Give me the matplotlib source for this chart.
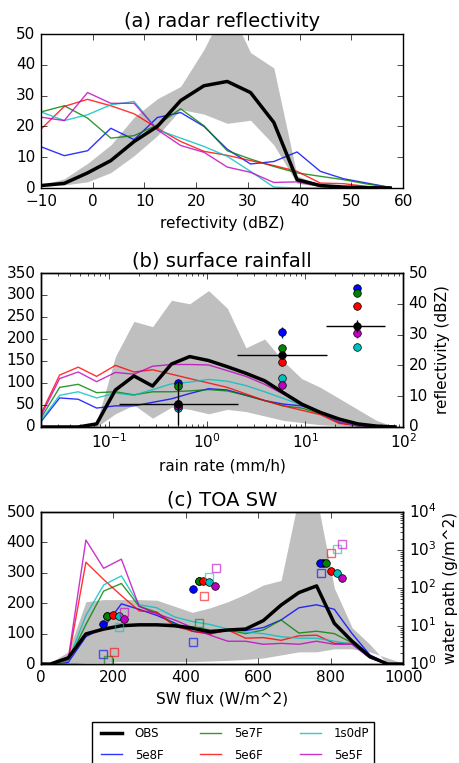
import numpy as np
import matplotlib
matplotlib.use('Agg')
import matplotlib.pyplot as plt
plt.style.use('classic')
plt.rcParams['font.family'] = ['DejaVu Sans']
plt.rcParams['mathtext.fontset'] = 'dejavusans'
plt.rcParams['font.size'] = 11

runs = ['OBS', '5e8F', '5e7F', '5e6F', '1s0dP', '5e5F']
colors = ['k', 'b', 'g', 'r', 'c', 'm']

# (a) radar reflectivity
dbz = [-10, -5.5, -1, 3.5, 8, 12.5, 17, 21.5, 26, 30.5, 35, 39.5, 44, 48.5, 53, 57.5]
a_lo = [0.5, 1, 2, 5, 10.5, 17, 25.5, 24, 21, 22, 14, 1.5, 0.5, 0, 0, 0]
a_hi = [1, 3, 8, 14, 23, 29, 33, 45, 60, 44, 39, 4, 1, 0.3, 0.1, 0]
a_vals = {
    'OBS':   [0.8, 1.5, 4.9, 8.9, 15.1, 20, 28.4, 33.2, 34.6, 31, 21.3, 2.7, 0.8, 0.3, 0.1, 0],
    '5e8F':  [13.4, 10.5, 12.1, 19.4, 15.7, 22.9, 24.5, 20, 12.6, 7.8, 8.6, 11.7, 5.4, 3, 1.6, 0.2],
    '5e7F':  [24.7, 26.7, 22.7, 16.2, 17, 20.5, 25.7, 20.2, 12.1, 9.4, 7, 4.9, 3.8, 2.7, 1.3, 0.2],
    '5e6F':  [19.1, 26.5, 28.8, 26.7, 24.1, 19.4, 15.1, 11.9, 10.6, 8.9, 7.3, 5.4, 1.6, 1.4, 0.5, 0.2],
    '1s0dP': [24.7, 21.9, 23.8, 27, 28.1, 18.9, 16.2, 13.5, 10.3, 5.4, 0.3, 0, 0, 0, 0, 0],
    '5e5F':  [23, 21.9, 31, 27.5, 27.5, 18.9, 13.8, 11.6, 6.8, 5.1, 1.8, 2, 0.5, 0.2, 0, 0],
}

# (b) surface rainfall
rain = [0.02, 0.031, 0.048, 0.074, 0.115, 0.178, 0.276, 0.43, 0.66, 1.03,
        1.6, 2.48, 3.85, 5.96, 9.2, 14.3, 22.2, 34.4, 53.3, 82.6]
b_lo = [0, 0, 0, 0, 30, 50, 20, 45, 40, 30, 40, 35, 25, 15, 10, 5, 3, 1, 0, 0]
b_hi = [0, 0, 0, 10, 160, 240, 228, 288, 280, 310, 270, 180, 200, 150, 110, 90, 65, 40, 15, 0]
b_vals = {
    'OBS':   [0, 0, 0, 7, 84, 116, 93, 143, 160, 151, 137, 122, 105, 78, 52, 33, 18, 7, 2, 0],
    '5e8F':  [12, 66, 63, 43, 48, 48, 56, 64, 76, 87, 84, 72, 60, 52, 48, 33, 10, 3, 2, 1],
    '5e7F':  [20, 90, 97, 78, 80, 73, 80, 80, 82, 85, 82, 72, 60, 48, 43, 30, 10, 3, 2, 1],
    '5e6F':  [30, 118, 136, 115, 140, 125, 130, 120, 110, 100, 90, 75, 60, 48, 38, 28, 8, 3, 2, 1],
    '1s0dP': [15, 72, 80, 66, 77, 72, 85, 98, 102, 108, 104, 94, 80, 65, 50, 32, 12, 3, 2, 1],
    '5e5F':  [25, 110, 125, 103, 124, 120, 138, 142, 142, 141, 128, 115, 97, 75, 50, 32, 12, 3, 2, 1],
}
# reflectivity composites per rain-rate class
zr_x = [0.5, 5.75, 33.4]
zr_xlo = [0.375, 3.75, 17.0]
zr_xhi = [1.57, 10.95, 32.6]
zr_vals = {
    'OBS':   [7.6, 23.4, 32.8],
    '5e8F':  [14.3, 30.8, 45.1],
    '5e7F':  [13.4, 25.5, 43.5],
    '5e6F':  [7.3, 21.0, 39.3],
    '1s0dP': [6.0, 15.8, 26.1],
    '5e5F':  [6.8, 13.6, 30.4],
}
zr_err = {
    'OBS':   [7.0, 1.0, 2.0],
    '5e8F':  [0.5, 1.8, 1.0],
    '5e7F':  [0.5, 0.8, 0.6],
    '5e6F':  [0.5, 0.8, 0.6],
    '1s0dP': [0.5, 0.8, 0.6],
    '5e5F':  [0.5, 0.8, 1.5],
}

# (c) TOA SW
sw = [-23, 26, 75, 124, 173, 222, 271, 320, 369, 418, 467, 516, 565, 614,
      663, 712, 761, 810, 859, 908, 957, 1006]
c_lo = [0, 0, 0, 5, 5, 8, 8, 8, 8, 8, 10, 12, 15, 20, 30, 40, 40, 50, 50, 40, 20, 0]
c_hi = [0, 5, 40, 205, 212, 212, 212, 210, 190, 170, 185, 205, 230, 260, 275, 550, 550, 250, 120, 65, 0, 0]
c_vals = {
    'OBS':   [0, 0, 20, 99, 115, 126, 129, 129, 126, 118, 106, 112, 115, 143, 194, 235, 257, 134, 75, 25, 0, 0],
    '5e8F':  [0, 0, 5, 90, 120, 198, 180, 160, 135, 108, 100, 112, 110, 120, 145, 185, 195, 180, 100, 30, 0, 0],
    '5e7F':  [0, 0, 10, 130, 240, 265, 190, 170, 130, 122, 112, 112, 100, 112, 145, 102, 108, 100, 70, 25, 0, 0],
    '5e6F':  [0, 0, 10, 335, 278, 225, 175, 170, 125, 108, 98, 112, 85, 87, 78, 93, 95, 68, 68, 20, 0, 0],
    '1s0dP': [0, 0, 10, 160, 260, 290, 195, 185, 155, 140, 130, 115, 105, 100, 90, 85, 85, 75, 65, 20, 0, 0],
    '5e5F':  [0, 0, 15, 408, 315, 345, 190, 165, 145, 120, 95, 75, 75, 65, 68, 65, 75, 65, 65, 20, 0, 0],
}
# water path composites (circles and open squares)
wp_circ_x = {
    'OBS':   [183, 436, 778],
    '5e8F':  [170, 420, 770],
    '5e7F':  [183, 436, 787],
    '5e6F':  [200, 448, 801],
    '1s0dP': [215, 465, 816],
    '5e5F':  [230, 480, 830],
}
wp_circ_y = {
    'OBS':   [18.5, 156, 470],
    '5e8F':  [11.6, 94, 470],
    '5e7F':  [18.5, 156, 470],
    '5e6F':  [19.2, 156, 285],
    '1s0dP': [18.1, 141, 252],
    '5e5F':  [15.7, 113, 180],
}
wp_sq_x = {
    '5e8F':  [172, 420, 772],
    '5e7F':  [184, 437, np.nan],
    '5e6F':  [201, 451, 800],
    '1s0dP': [215, 465, 816],
    '5e5F':  [230, 482, 832],
}
wp_sq_y = {
    '5e8F':  [1.87, 3.7, 252],
    '5e7F':  [1.3, 12.3, np.nan],
    '5e6F':  [2.06, 62, 845],
    '1s0dP': [9.7, 190, 1095],
    '5e5F':  [24, 327, 1480],
}

fig = plt.figure(figsize=(4.59, 7.63), facecolor='white')
L, W = 0.0893, 0.789

# ---- (a)
ax = fig.add_axes([L, 0.7536, W, 0.2018])
ax.fill_between(dbz, a_lo, a_hi, color='0.5', alpha=0.5, lw=0)
handles = []
for r, c in zip(runs, colors):
    if r == 'OBS':
        h, = ax.plot(dbz, a_vals[r], color=c, lw=2.5, label=r, zorder=5)
    else:
        h, = ax.plot(dbz, a_vals[r], color=c, lw=1, alpha=0.8, label=r)
    handles.append(h)
ax.set_xlim(-10, 60)
ax.set_ylim(0, 50)
ax.set_xlabel('refectivity (dBZ)')
ax.set_title('(a) radar reflectivity', fontsize=14)

# ---- (b)
ax = fig.add_axes([L, 0.4404, W, 0.2018])
ax.fill_between(rain, b_lo, b_hi, color='0.5', alpha=0.5, lw=0)
for r, c in zip(runs, colors):
    if r == 'OBS':
        ax.plot(rain, b_vals[r], color=c, lw=2.5, zorder=5)
    else:
        ax.plot(rain, b_vals[r], color=c, lw=1, alpha=0.8)
ax.set_xscale('log')
ax.set_xlim(0.02, 100)
ax.set_ylim(0, 350)
ax.set_yticks(np.arange(0, 351, 50))
ax.set_xlabel('rain rate (mm/h)')
ax.set_title('(b) surface rainfall', fontsize=14)
ax2 = ax.twinx()
for r, c in zip(runs[1:] + runs[:1], colors[1:] + colors[:1]):
    if r == 'OBS':
        ax2.errorbar(zr_x, zr_vals[r], yerr=zr_err[r], xerr=[zr_xlo, zr_xhi],
                     fmt='o', color=c, mec='k', ms=5.5, elinewidth=1, capsize=0, zorder=6)
    else:
        ax2.errorbar(zr_x, zr_vals[r], yerr=zr_err[r], fmt='o', color=c,
                     mec='k', mew=0.5, ms=5.5, elinewidth=1, capsize=0)
ax2.set_xscale('log')
ax2.set_xlim(0.02, 100)
ax2.set_ylim(0, 50)
ax2.set_ylabel('reflectivity (dBZ)')

# ---- (c)
ax = fig.add_axes([L, 0.1297, W, 0.1992])
ax.fill_between(sw, c_lo, c_hi, color='0.5', alpha=0.5, lw=0)
for r, c in zip(runs, colors):
    if r == 'OBS':
        ax.plot(sw, c_vals[r], color=c, lw=2.5, zorder=5)
    else:
        ax.plot(sw, c_vals[r], color=c, lw=1, alpha=0.8)
ax.set_xlim(0, 1000)
ax.set_ylim(0, 500)
ax.set_xlabel('SW flux (W/m^2)')
ax.set_title('(c) TOA SW', fontsize=14)
ax3 = ax.twinx()
for r, c in zip(runs, colors):
    ax3.plot(wp_circ_x[r], wp_circ_y[r], 'o', color=c, mec='k', mew=0.5, ms=5.5)
    if r in wp_sq_x:
        ax3.plot(wp_sq_x[r], wp_sq_y[r], 's', mfc='none', mec=c, mew=1, ms=5.5, alpha=0.6)
ax3.set_yscale('log')
ax3.set_xlim(0, 1000)
ax3.set_ylim(1, 1e4)
ax3.set_ylabel('water path (g/m^2)')

fig.legend(handles, runs, ncol=3, loc='upper center', bbox_to_anchor=(0.508, 0.0615),
           fontsize=8.5, handlelength=2.4, columnspacing=2.8, labelspacing=0.75,
           frameon=True)

fig.savefig('out.png', dpi=100, facecolor='white')
